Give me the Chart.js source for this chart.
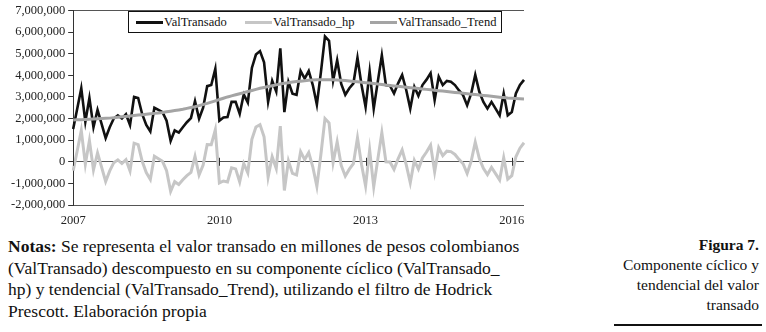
<!DOCTYPE html>
<html>
<head>
<meta charset="utf-8">
<script src="https://cdn.jsdelivr.net/npm/chart.js@4"></script>
<style>
  html, body { margin: 0; padding: 0; background: #fff; }
  body { width: 766px; height: 332px; position: relative; overflow: hidden; font-family: "Liberation Serif", "Times New Roman", serif; color: #111; }
  #chartBox { position: absolute; left: 0; top: 0; width: 532px; height: 228px; }
  #legend { position: absolute; left: 128px; top: 11px; width: 372px; height: 20px; border: 1px solid #111; background: #fff; font-size: 12.5px; }
  #legend .item { position: absolute; top: 0; height: 20px; line-height: 20px; white-space: nowrap; }
  #legend .swatch { display: inline-block; width: 27px; height: 3px; vertical-align: middle; margin-right: 1px; position: relative; top: -1px; }
  #notes { position: absolute; left: 8px; top: 236px; width: 560px; font-size: 17.5px; line-height: 21.7px; }
  #caption { position: absolute; right: 7px; top: 235px; text-align: right; font-size: 15.5px; line-height: 20px; }
  #rule { position: absolute; left: 614px; top: 324px; width: 148px; height: 2px; background: #111; }
</style>
</head>
<body>
<div id="chartBox"><canvas id="chart"></canvas></div>
<div id="legend">
  <div class="item" style="left:7px"><span class="swatch" style="background:#111"></span>ValTransado</div>
  <div class="item" style="left:116px"><span class="swatch" style="background:#c6c6c6"></span>ValTransado_hp</div>
  <div class="item" style="left:241px"><span class="swatch" style="background:#a4a4a4"></span>ValTransado_Trend</div>
</div>
<div id="notes"><b>Notas:</b> Se representa el valor transado en millones de pesos colombianos<br>(ValTransado) descompuesto en su componente cíclico (ValTransado_<br>hp) y tendencial (ValTransado_Trend), utilizando el filtro de Hodrick<br>Prescott. Elaboración propia</div>
<div id="caption"><b>Figura 7.</b><br>Componente cíclico y<br>tendencial del valor<br>transado</div>
<div id="rule"></div>
<script>
// monthly series, Jan 2007 .. Apr 2016, values in millions
const startYear = 2007;
const monthCount = 112;
const yearTicks = ["2007", "2010", "2013", "2016"];
const yTicks = [-2, -1, 0, 1, 2, 3, 4, 5, 6, 7];

const valTransado = [
  1.52, 2.45, 3.40, 1.85, 2.95, 1.60, 2.40, 1.75, 1.10, 1.60, 2.00, 2.15,
  2.00, 2.20, 1.70, 3.00, 2.95, 2.20, 1.70, 1.40, 2.50, 2.40, 2.30, 1.90,
  0.97, 1.45, 1.35, 1.60, 1.83, 2.02, 2.80, 1.99, 2.50, 3.50, 3.55, 4.30,
  1.90, 2.05, 2.07, 2.77, 2.77, 2.22, 3.12, 2.74, 4.34, 4.96, 5.12, 4.60,
  2.77, 3.75, 3.25, 5.25, 2.30, 3.70, 3.15, 3.10, 4.20, 3.85, 4.20, 3.55,
  2.65, 4.15, 5.80, 5.60, 3.75, 4.70, 3.60, 3.10, 3.40, 3.63, 4.81, 3.55,
  2.54, 4.18, 2.46, 3.71, 4.93, 3.55, 3.52, 3.16, 3.63, 4.02, 3.32, 2.46,
  3.47, 3.05, 3.55, 3.80, 4.10, 2.85, 3.94, 3.55, 3.74, 3.70, 3.55, 3.30,
  3.08, 2.61, 3.16, 4.02, 3.24, 2.77, 2.46, 2.77, 2.46, 2.15, 3.16, 2.15,
  2.30, 3.16, 3.55, 3.79
];

const valTransadoHp = [
  -0.41, 0.51, 1.45, -0.11, 0.98, -0.38, 0.41, -0.25, -0.91, -0.42, -0.04, 0.09,
  -0.08, 0.10, -0.42, 0.86, 0.79, 0.02, -0.50, -0.82, 0.26, 0.14, 0.02, -0.41,
  -1.37, -0.92, -1.05, -0.83, -0.64, -0.49, 0.25, -0.61, -0.15, 0.80, 0.79, 1.48,
  -0.98, -0.89, -0.93, -0.28, -0.33, -0.93, -0.08, -0.51, 1.04, 1.61, 1.72, 1.16,
  -0.71, 0.23, -0.31, 1.65, -1.33, 0.04, -0.54, -0.61, 0.47, 0.10, 0.43, -0.23,
  -1.14, 0.35, 2.00, 1.80, -0.04, 0.92, -0.17, -0.66, -0.34, -0.09, 1.11, -0.13,
  -1.12, 0.54, -1.16, 0.11, 1.35, 0.00, -0.01, -0.35, 0.14, 0.55, -0.13, -0.97,
  0.06, -0.34, 0.18, 0.45, 0.77, -0.46, 0.65, 0.28, 0.49, 0.47, 0.34, 0.11,
  -0.09, -0.54, 0.03, 0.91, 0.15, -0.30, -0.59, -0.26, -0.55, -0.84, 0.19, -0.80,
  -0.64, 0.23, 0.63, 0.88
];

const valTransadoTrend = [
  1.93, 1.94, 1.95, 1.96, 1.97, 1.98, 1.99, 2.00, 2.01, 2.02, 2.04, 2.06,
  2.08, 2.10, 2.12, 2.14, 2.16, 2.18, 2.20, 2.22, 2.24, 2.26, 2.28, 2.31,
  2.34, 2.37, 2.40, 2.43, 2.47, 2.51, 2.55, 2.60, 2.65, 2.70, 2.76, 2.82,
  2.88, 2.94, 3.00, 3.05, 3.10, 3.15, 3.20, 3.25, 3.30, 3.35, 3.40, 3.44,
  3.48, 3.52, 3.56, 3.60, 3.63, 3.66, 3.69, 3.71, 3.73, 3.75, 3.77, 3.78,
  3.79, 3.80, 3.80, 3.80, 3.79, 3.78, 3.77, 3.76, 3.74, 3.72, 3.70, 3.68,
  3.66, 3.64, 3.62, 3.60, 3.58, 3.55, 3.53, 3.51, 3.49, 3.47, 3.45, 3.43,
  3.41, 3.39, 3.37, 3.35, 3.33, 3.31, 3.29, 3.27, 3.25, 3.23, 3.21, 3.19,
  3.17, 3.15, 3.13, 3.11, 3.09, 3.07, 3.05, 3.03, 3.01, 2.99, 2.97, 2.95,
  2.94, 2.93, 2.92, 2.91
];

// category labels "YYYY-MM"
const months = [];
for (let i = 0; i < monthCount; i++) {
    const y = startYear + Math.floor(i / 12);
    const m = (i % 12) + 1;
    months.push(y + "-" + (m < 10 ? "0" + m : m));
}

Chart.defaults.font.family = "'Liberation Serif', 'Times New Roman', serif";
Chart.defaults.color = "#222";

// little cross ticks on the zero line at the labelled years
const zeroTicks = {
    id: "zeroTicks",
    afterDatasetsDraw(chart) {
        const { ctx, scales } = chart;
        const y0 = scales.y.getPixelForValue(0);
        ctx.save();
        ctx.strokeStyle = "#333";
        ctx.lineWidth = 1;
        months.forEach((lab, i) => {
            if (lab.endsWith("-01") && yearTicks.includes(lab.slice(0, 4))) {
                const x = Math.round(scales.x.getPixelForValue(i)) + 0.5;
                ctx.beginPath();
                ctx.moveTo(x, y0 - 4);
                ctx.lineTo(x, y0 + 4);
                ctx.stroke();
            }
        });
        ctx.restore();
    }
};

new Chart(document.getElementById("chart"), {
    type: "line",
    data: {
        labels: months,
        datasets: [
            {
                label: "ValTransado",
                data: valTransado,
                borderColor: "#111",
                borderWidth: 2.6,
                pointRadius: 0,
                tension: 0,
                order: 3
            },
            {
                label: "ValTransado_hp",
                data: valTransadoHp,
                borderColor: "#c6c6c6",
                borderWidth: 3,
                pointRadius: 0,
                tension: 0,
                order: 2
            },
            {
                label: "ValTransado_Trend",
                data: valTransadoTrend,
                borderColor: "#a4a4a4",
                borderWidth: 3,
                pointRadius: 0,
                tension: 0,
                order: 1
            }
        ]
    },
    options: {
        responsive: true,
        maintainAspectRatio: false,
        animation: false,
        layout: { padding: { left: 8, top: 4, right: 8, bottom: 0 } },
        plugins: {
            legend: { display: false },
            tooltip: { enabled: false }
        },
        scales: {
            x: {
                grid: { display: false },
                border: { display: false },
                ticks: {
                    autoSkip: false,
                    maxRotation: 0,
                    padding: 0,
                    font: { size: 12.5 },
                    color: "#222",
                    callback: function (val, idx) {
                        const lab = months[idx];
                        const yr = lab.slice(0, 4);
                        return lab.endsWith("-01") && yearTicks.includes(yr) ? yr : "";
                    }
                }
            },
            y: {
                min: -2,
                max: 7,
                afterBuildTicks: function (scale) {
                    scale.ticks = yTicks.map(v => ({ value: v }));
                },
                grid: {
                    color: ctx => (ctx.tick && [7, 0, -2].includes(ctx.tick.value)) ? "#555" : "rgba(0,0,0,0)",
                    tickColor: "#333",
                    tickLength: 5
                },
                border: { display: true, color: "#333", width: 1 },
                ticks: {
                    padding: 3,
                    font: { size: 12.5 },
                    color: "#222",
                    callback: v => (v * 1000000).toLocaleString("en-US")
                }
            }
        }
    },
    plugins: [zeroTicks]
});
</script>
</body>
</html>
